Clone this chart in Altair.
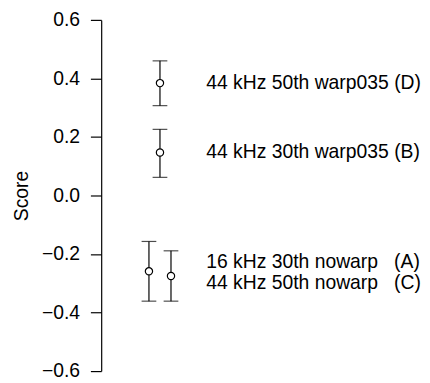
import altair as alt
import pandas as pd

labels = ["16 kHz 30th nowarp\u00a0\u00a0\u00a0(A)", "44 kHz 30th warp035 (B)",
          "44 kHz 50th nowarp\u00a0\u00a0\u00a0(C)", "44 kHz 50th warp035 (D)"]
score = [-0.259, 0.147, -0.275, 0.384]
lower = [-0.361, 0.062, -0.361, 0.307]
upper = [-0.157, 0.226, -0.189, 0.460]
xpos = [0.85, 1.0, 1.15, 1.0]
label_x = [1.63, 1.63, 1.63, 1.63]
label_y = [-0.229, 0.147, -0.299, 0.384]

df = pd.DataFrame({"label": labels, "score": score, "lower": lower, "upper": upper,
                   "x": xpos, "lx": label_x, "ly": label_y})

FONT = "Liberation Sans"
FS = 19.7

xs = alt.Scale(domain=[0.2, 4.5], nice=False, zero=False)
ys = alt.Scale(domain=[-0.6, 0.6], nice=False, zero=False)

base = alt.Chart(df)

yaxis = alt.Axis(values=[-0.6, -0.4, -0.2, 0.0, 0.2, 0.4, 0.6], format=".1f", grid=False,
                 domainColor="black", tickColor="black", tickSize=11, labelPadding=11,
                 labelFontSize=FS, labelFont=FONT, labelColor="black",
                 titleFont=FONT, titleFontSize=FS, titleFontWeight="normal",
                 titleColor="black", titlePadding=10, domainWidth=1.2, tickWidth=1.2)

rules = base.mark_rule(color="black", strokeWidth=1.2).encode(
    x=alt.X("x:Q", scale=xs, axis=None),
    y=alt.Y("lower:Q", scale=ys, axis=yaxis, title="Score"),
    y2="upper:Q",
)
caps_lo = base.mark_tick(color="black", orient="horizontal", size=15, thickness=1.2).encode(
    x=alt.X("x:Q", scale=xs), y=alt.Y("lower:Q", scale=ys))
caps_hi = base.mark_tick(color="black", orient="horizontal", size=15, thickness=1.2).encode(
    x=alt.X("x:Q", scale=xs), y=alt.Y("upper:Q", scale=ys))
points = base.mark_point(shape="circle", size=55, color="black", fill="white",
                         filled=False, strokeWidth=1.2, opacity=1).encode(
    x=alt.X("x:Q", scale=xs), y=alt.Y("score:Q", scale=ys))
texts = base.mark_text(align="left", baseline="middle", font=FONT, fontSize=FS,
                       color="black").encode(
    x=alt.X("lx:Q", scale=xs), y=alt.Y("ly:Q", scale=ys), text="label:N")

chart = alt.layer(rules, caps_lo, caps_hi, points, texts).properties(
    width=322, height=358, autosize="none",
    padding={"left": 95, "top": 8.5, "right": 5, "bottom": 8.5},
).configure_view(stroke=None)

chart.save("out.html", embed_options={"renderer": "svg", "actions": False})
